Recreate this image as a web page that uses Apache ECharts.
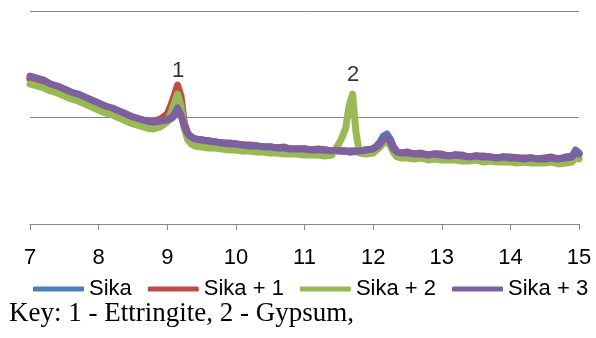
<!DOCTYPE html>
<html>
<head>
<meta charset="utf-8">
<script src="https://cdn.jsdelivr.net/npm/echarts@6/dist/echarts.min.js"></script>
<style>
html,body{margin:0;padding:0;background:#fff;}
#chart{width:596px;height:338px;}
</style>
</head>
<body>
<div id="chart"></div>
<script>
// 2-theta positions (x)
const xValues = [
  7.0,7.1,7.2,7.3,7.4,7.5,7.6,7.7,7.8,7.9,8.0,8.1,8.2,8.3,8.4,8.5,8.6,8.7,8.8,8.9,9.0,
  9.05,9.1,9.15,9.2,9.25,9.3,9.35,
  9.4,9.5,9.6,9.7,9.8,9.9,10.0,10.1,10.2,10.3,10.4,10.5,10.6,10.7,10.8,10.9,11.0,11.1,11.2,11.3,11.4,
  11.45,11.5,11.55,11.6,11.65,11.7,11.75,11.8,
  11.9,12.0,
  12.05,12.1,12.15,12.2,12.25,12.3,12.35,
  12.4,12.5,12.6,12.7,12.8,12.9,13.0,13.1,13.2,13.3,13.4,13.5,13.6,13.7,13.8,13.9,14.0,14.1,14.2,14.3,14.4,14.5,14.6,14.7,14.8,14.9,
  14.95,15.0
];
const sika = [
  146,144,142,139,137,134,131,129,126,123,120,117,115,112,109,106,104,102,101,102,103,
  105,108,113,113,100,90,86,
  85,84,83,82,81,80,80,79,78,78,77,77,76,76,75,75,75,74,74,74,73,
  73,73,73,73,72,72,73,73,
  74,75,
  78,82,88,90,85,77,72,
  71,71,70,70,69,70,69,68,69,68,67,68,67,67,66,67,66,66,65,66,65,65,66,65,67,68,
  74,71
];
const sika1 = [
  145,143,141,138,135,133,130,128,125,122,120,117,115,112,109,107,105,103,102,105,110,
  118,128,139,128,100,90,87,
  85,84,83,82,81,81,80,79,79,78,77,77,76,77,75,75,75,74,75,74,73,
  74,74,73,73,73,73,72,73,
  74,75,
  77,80,84,86,82,76,72,
  71,72,70,71,69,70,70,68,69,69,67,68,68,67,66,67,67,66,66,66,65,66,67,65,66,66,
  71,70
];
const sika2 = [
  140,138,136,133,131,128,125,123,120,117,114,111,109,106,103,100,98,96,95,97,102,
  110,120,130,118,95,84,80,
  78,77,76,76,75,74,74,73,73,72,72,71,71,70,70,70,69,69,69,68,69,
  75,80,87,96,118,130,92,71,
  70,71,
  74,77,81,83,78,71,67,
  66,66,65,66,64,65,64,64,64,63,63,64,62,63,62,62,62,61,62,61,61,61,62,60,61,62,
  66,65
];
const sika3 = [
  148,146,144,140,138,135,132,130,127,124,121,118,116,113,110,107,105,103,102,103,104,
  106,109,116,109,97,90,87,
  85,84,83,82,81,80,80,79,78,78,77,77,76,76,75,75,75,74,74,74,73,
  74,73,73,73,72,73,73,73,
  74,75,
  77,80,85,87,82,75,72,
  71,71,70,70,69,70,69,68,69,68,67,68,67,67,66,67,66,66,65,66,65,65,66,65,66,67,
  72,70
];
const seriesNames = ['Sika', 'Sika + 1', 'Sika + 2', 'Sika + 3'];
const seriesColors = ['#4A7EBB', '#BE4B48', '#98B954', '#7D60A0'];
const xTicks = [7, 8, 9, 10, 11, 12, 13, 14, 15];
const peakLabels = [
  { text: '1', x: 9.157, y: 153 },
  { text: '2', x: 11.71, y: 149 }
];
const keyText = 'Key: 1 - Ettringite, 2 - Gypsum,';

const allValues = [sika, sika1, sika2, sika3];
const chart = echarts.init(document.getElementById('chart'), null, { renderer: 'canvas' });

const series = allValues.map((vals, i) => ({
  name: seriesNames[i],
  type: 'line',
  data: xValues.map((x, j) => [x, vals[j]]),
  showSymbol: false,
  symbol: 'none',
  smooth: false,
  lineStyle: { width: 7, color: seriesColors[i], cap: 'round', join: 'round' },
  itemStyle: { color: seriesColors[i] },
  z: 2 + i,
  silent: true
}));

series.push({
  name: 'peaks',
  type: 'scatter',
  data: peakLabels.map(p => ({ value: [p.x, p.y], name: p.text })),
  symbolSize: 0,
  z: 10,
  silent: true,
  label: {
    show: true,
    position: 'inside',
    formatter: (p) => p.name,
    color: '#000',
    fontSize: 22,
    fontFamily: 'Liberation Sans, Arial, sans-serif'
  }
});

chart.setOption({
  animation: false,
  backgroundColor: '#fff',
  grid: { left: 30, right: 17, top: 11, bottom: 114, containLabel: false },
  xAxis: {
    type: 'value',
    min: 7,
    max: 15,
    interval: 1,
    axisLine: { show: true, lineStyle: { color: '#868686', width: 1 } },
    axisTick: { show: true, length: 6, inside: false, lineStyle: { color: '#868686', width: 1 } },
    axisLabel: {
      show: true,
      margin: 23,
      color: '#000',
      fontSize: 22,
      fontFamily: 'Liberation Sans, Arial, sans-serif',
      formatter: (v) => (xTicks.indexOf(v) >= 0 ? String(v) : '')
    },
    splitLine: { show: false }
  },
  yAxis: {
    type: 'value',
    min: 0,
    max: 213,
    interval: 106.5,
    axisLine: { show: false },
    axisTick: { show: false },
    axisLabel: { show: false },
    splitLine: { show: true, lineStyle: { color: '#868686', width: 1 } }
  },
  legend: {
    data: seriesNames,
    left: 28,
    top: 273,
    itemWidth: 51,
    itemHeight: 5,
    itemGap: 16,
    icon: 'roundRect',
    textStyle: { color: '#000', fontSize: 22, fontFamily: 'Liberation Sans, Arial, sans-serif' }
  },
  graphic: [{
    type: 'text',
    left: 9,
    top: 300,
    style: {
      text: keyText,
      fill: '#000',
      fontSize: 27,
      fontFamily: 'Liberation Serif, Times New Roman, serif'
    }
  }],
  series: series
});
</script>
</body>
</html>
